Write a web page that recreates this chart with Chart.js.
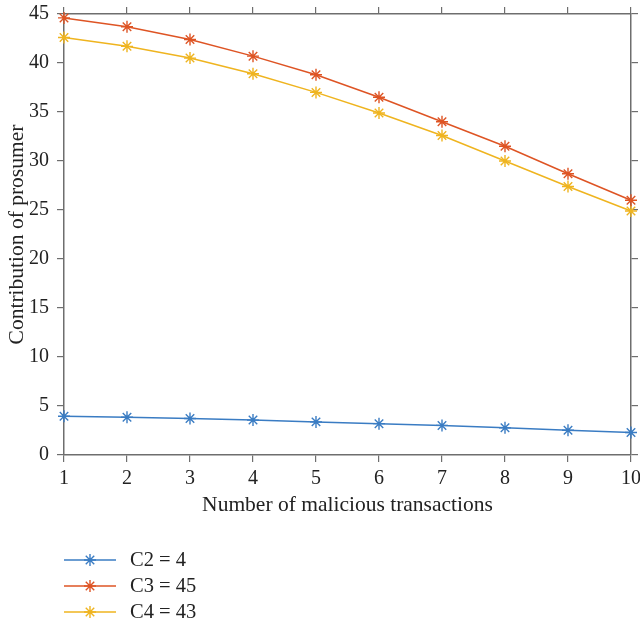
<!DOCTYPE html>
<html>
<head>
<meta charset="utf-8">
<script src="https://cdn.jsdelivr.net/npm/chart.js@4"></script>
<style>
  html, body { margin: 0; padding: 0; background: #fff; }
  #wrap { width: 640px; height: 627px; }
</style>
</head>
<body>
<div id="wrap"><canvas id="c" width="640" height="627"></canvas></div>
<script>
const transactions = [1, 2, 3, 4, 5, 6, 7, 8, 9, 10];
const c2Values = [3.95, 3.85, 3.72, 3.56, 3.38, 3.2, 3.02, 2.77, 2.53, 2.3];
const c3Values = [44.6, 43.7, 42.4, 40.7, 38.8, 36.5, 34.0, 31.5, 28.7, 26.0];
const c4Values = [42.6, 41.7, 40.5, 38.9, 37.0, 34.9, 32.6, 30.0, 27.4, 24.9];
const seriesNames = ['C2 = 4', 'C3 = 45', 'C4 = 43'];
const seriesColors = ['#3a7cc3', '#de5424', '#efb41f'];
const yTicks = [0, 5, 10, 15, 20, 25, 30, 35, 40, 45];

const FONT = '"Liberation Serif", "DejaVu Serif", serif';
const AXIS_COLOR = '#6e6e6e';
const TEXT_COLOR = '#222';

function ds(label, data, color) {
  return {
    label, data,
    borderColor: color, backgroundColor: color,
    borderWidth: 1.5,
    pointStyle: 'star', pointRadius: 6, pointBorderWidth: 1.4,
    pointBorderColor: color, pointBackgroundColor: color,
    tension: 0, fill: false, clip: false
  };
}

const legendPlugin = {
  id: 'sideLegend',
  afterDraw(chart) {
    const ctx = chart.ctx;
    const ys = [560, 586, 612];
    chart.data.datasets.forEach((d, i) => {
      const y = ys[i];
      ctx.save();
      ctx.strokeStyle = d.borderColor;
      ctx.lineWidth = 1.5;
      ctx.beginPath();
      ctx.moveTo(64, y); ctx.lineTo(116, y);
      ctx.stroke();
      ctx.lineWidth = 1.4;
      ctx.fillStyle = d.borderColor;
      Chart.helpers.drawPoint(ctx, { pointStyle: 'star', radius: 6, rotation: 0, borderWidth: 1.4 }, 90, y);
      ctx.fillStyle = TEXT_COLOR;
      ctx.font = '20.5px ' + FONT;
      ctx.textBaseline = 'middle';
      ctx.textAlign = 'left';
      ctx.fillText(d.label, 130, y + 1);
      ctx.restore();
    });
  }
};

function noPad(s) { s.paddingLeft = 0; s.paddingRight = 0; s.paddingTop = 0; s.paddingBottom = 0; }

const gridCommon = { drawOnChartArea: false, drawTicks: true, tickLength: 7, color: AXIS_COLOR, lineWidth: 1.2 };
const borderCommon = { display: true, color: AXIS_COLOR, width: 1.5 };

new Chart(document.getElementById('c'), {
  type: 'line',
  data: {
    labels: transactions,
    datasets: [
      ds(seriesNames[0], c2Values, seriesColors[0]),
      ds(seriesNames[1], c3Values, seriesColors[1]),
      ds(seriesNames[2], c4Values, seriesColors[2])
    ]
  },
  options: {
    responsive: false,
    animation: false,
    devicePixelRatio: 1,
    layout: { padding: { left: 0, top: 0, right: 0, bottom: 109 } },
    plugins: { legend: { display: false }, tooltip: { enabled: false } },
    scales: {
      x: {
        type: 'linear', position: 'bottom', min: 1, max: 10,
        grid: gridCommon, border: borderCommon,
        ticks: { stepSize: 1, color: TEXT_COLOR, padding: 5, font: { family: FONT, size: 20 } },
        title: { display: true, text: 'Number of malicious transactions', color: TEXT_COLOR, padding: 0, font: { family: FONT, size: 21.5 } },
        afterFit(s) { s.height = 63; noPad(s); }
      },
      x2: {
        type: 'linear', position: 'top', min: 1, max: 10,
        grid: gridCommon, border: borderCommon,
        ticks: { stepSize: 1, display: false },
        afterFit(s) { s.height = 14; noPad(s); }
      },
      y: {
        type: 'linear', position: 'left', min: 0, max: 45,
        afterBuildTicks(s) { s.ticks = yTicks.map(v => ({ value: v })); },
        grid: gridCommon, border: borderCommon,
        ticks: { color: TEXT_COLOR, padding: 8, font: { family: FONT, size: 20 } },
        title: { display: true, text: 'Contribution of prosumer', color: TEXT_COLOR, padding: { top: 4, bottom: 0 }, font: { family: FONT, size: 21.5 } },
        afterFit(s) { s.width = 64; noPad(s); }
      },
      y2: {
        type: 'linear', position: 'right', min: 0, max: 45,
        afterBuildTicks(s) { s.ticks = yTicks.map(v => ({ value: v })); },
        grid: gridCommon, border: borderCommon,
        ticks: { display: false },
        afterFit(s) { s.width = 9; noPad(s); }
      }
    }
  },
  plugins: [legendPlugin]
});
</script>
</body>
</html>
